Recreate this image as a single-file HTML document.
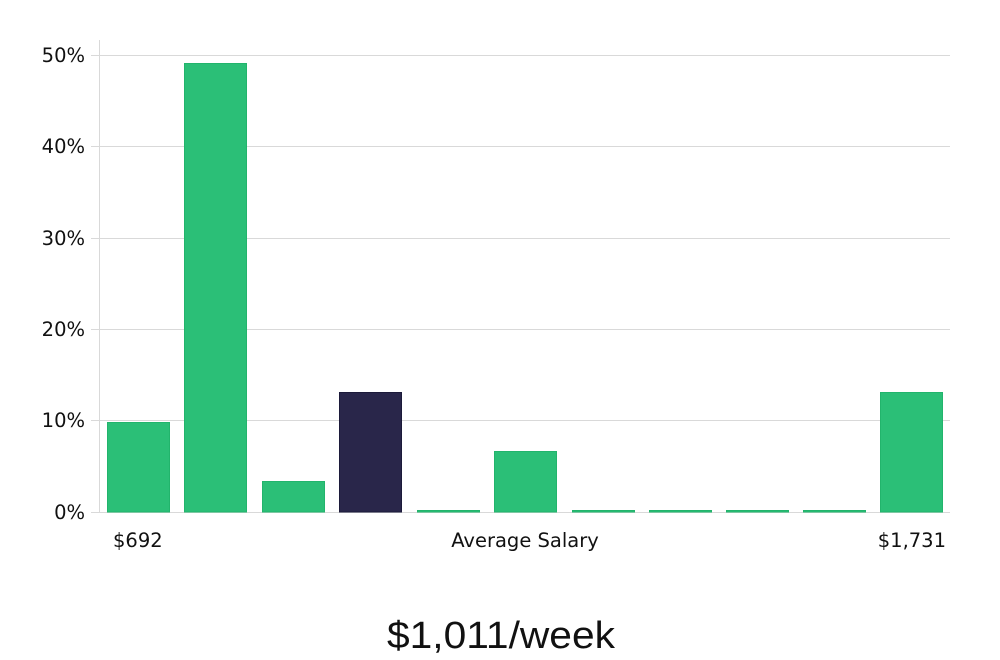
<!DOCTYPE html>
<html><head><meta charset="utf-8"><style>
html,body{margin:0;padding:0;background:#fff;}
svg{display:block;}
text{font-family:"DejaVu Sans","Liberation Sans",sans-serif;fill:#111;}
</style></head><body>
<svg width="1000" height="660" viewBox="0 0 1000 660" xmlns="http://www.w3.org/2000/svg">
<g stroke="#d9d9d9" stroke-width="1">
<line x1="91" y1="55.5" x2="950" y2="55.5"/>
<line x1="91" y1="146.5" x2="950" y2="146.5"/>
<line x1="91" y1="238.5" x2="950" y2="238.5"/>
<line x1="91" y1="329.5" x2="950" y2="329.5"/>
<line x1="91" y1="420.5" x2="950" y2="420.5"/>
<line x1="91" y1="512.5" x2="950" y2="512.5"/>
<line x1="99.5" y1="40" x2="99.5" y2="512"/>
</g>
<g font-size="19.5" text-anchor="end">
<text x="85" y="62">50%</text>
<text x="85" y="153">40%</text>
<text x="85" y="245">30%</text>
<text x="85" y="336">20%</text>
<text x="85" y="427">10%</text>
<text x="85" y="519">0%</text>
</g>
<g fill="#2bbf77" stroke="#22b46c" stroke-width="1">
<rect x="107.5" y="422.5" width="62" height="89.5"/>
<rect x="184.5" y="63.5" width="62" height="448.5"/>
<rect x="262.5" y="481.5" width="62" height="30.5"/>
<rect x="417.5" y="510.5" width="62" height="1.5"/>
<rect x="494.5" y="451.5" width="62" height="60.5"/>
<rect x="572.5" y="510.5" width="62" height="1.5"/>
<rect x="649.5" y="510.5" width="62" height="1.5"/>
<rect x="726.5" y="510.5" width="62" height="1.5"/>
<rect x="803.5" y="510.5" width="62" height="1.5"/>
<rect x="880.5" y="392.5" width="62" height="119.5"/>
</g>
<rect x="339.5" y="392.5" width="62" height="119.5" fill="#29264a" stroke="#1c1a3a" stroke-width="1"/>
<g font-size="19.5">
<text x="113" y="547">$692</text>
<text x="525" y="547" text-anchor="middle">Average Salary</text>
<text x="946" y="547" text-anchor="end">$1,731</text>
</g>
<text x="501" y="648" text-anchor="middle" font-size="38" style="font-family:'Liberation Sans Narrow','Liberation Sans',sans-serif;font-weight:300" textLength="228" lengthAdjust="spacingAndGlyphs">$1,011/week</text>
</svg>
</body></html>
